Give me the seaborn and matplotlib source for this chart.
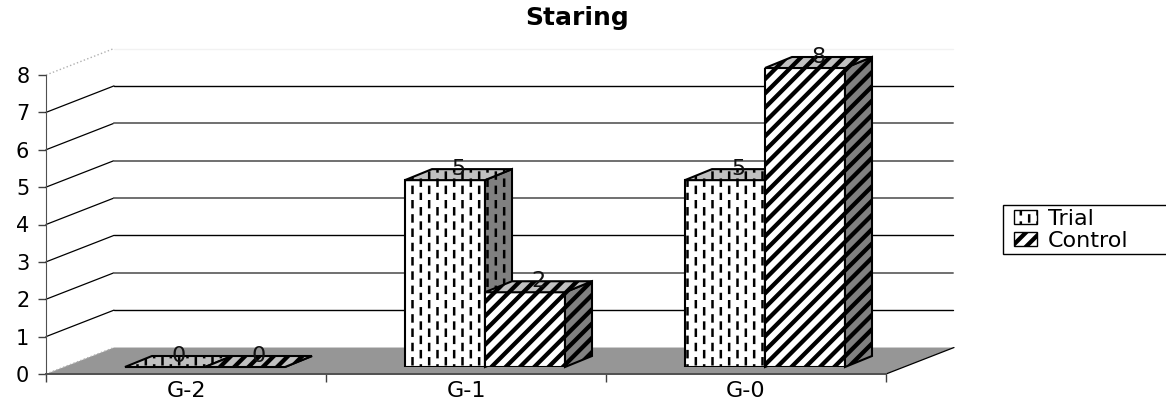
import matplotlib
matplotlib.use('Agg')
import matplotlib.hatch as mhatch
import matplotlib.pyplot as plt
import numpy as np
import pandas as pd
import seaborn as sns
from matplotlib.patches import Patch, Polygon, Rectangle
from matplotlib.path import Path

categories = ['G-2', 'G-1', 'G-0']
trial = [0, 5, 5]
control = [0, 2, 8]
series_names = ['Trial', 'Control']
y_ticks = [0, 1, 2, 3, 4, 5, 6, 7, 8]
grid_colors = ['black', '#707070', 'black', '#707070', '#707070', '#707070', 'black', '#707070']

W, H = 1166, 404


# staggered vertical dashes for the Trial bars, matplotlib has no such hatch
class DashHatch(mhatch.HatchPatternBase):
    cols = 12
    rows = 7

    def __init__(self, hatch, density):
        self.num_vertices = 2 * self.cols * self.rows if '*' in hatch else 0
        self.num_codes = self.num_vertices

    def set_vertices_and_codes(self, vertices, codes):
        if not self.num_vertices:
            return
        pts = []
        for c in range(self.cols):
            for r in range(self.rows):
                x = (c + 0.5) / self.cols
                y = (r + (c % 2) * 0.5) / self.rows
                pts.append([x, y])
                pts.append([x, y + 0.06])
        vertices[:] = np.array(pts)
        codes[0::2] = Path.MOVETO
        codes[1::2] = Path.LINETO


# thick diagonal stripes for the Control bars, two strokes side by side
class StripeHatch(mhatch.HatchPatternBase):
    stripes = 7

    def __init__(self, hatch, density):
        self.num_vertices = 8 * self.stripes + 4 if 'O' in hatch else 0
        self.num_codes = self.num_vertices

    def set_vertices_and_codes(self, vertices, codes):
        if not self.num_vertices:
            return
        pts = []
        for i in range(-self.stripes, self.stripes + 1):
            for off in (0, 0.025):
                pts.append([i / self.stripes + off, 0])
                pts.append([i / self.stripes + off + 1, 1])
        vertices[:] = np.array(pts)
        codes[0::2] = Path.MOVETO
        codes[1::2] = Path.LINETO


mhatch._hatch_types.remove(mhatch.Stars)
mhatch._hatch_types.remove(mhatch.LargeCircles)
mhatch._hatch_types.extend([DashHatch, StripeHatch])

sns.set_style('white')
plt.rcParams['font.family'] = ['DejaVu Sans']
plt.rcParams['hatch.linewidth'] = 1.8
plt.rcParams['text.color'] = 'black'

fig = plt.figure(figsize=(W / 100, H / 100), dpi=100)
ax = fig.add_axes([46 / W, (H - 374) / H, 840 / W, 299 / H])
ax2 = fig.add_axes([65 / W, (H - 367) / H, 840 / W, 299 / H])
ax.set_zorder(1)
ax2.set_zorder(2)

df = pd.DataFrame({
    'group': categories * 2,
    'value': trial + control,
    'series': ['Trial'] * 3 + ['Control'] * 3,
})

sns.barplot(data=df, x='group', y='value', hue='series', order=categories,
            hue_order=series_names, palette=['white', 'white'], edgecolor='black',
            linewidth=1.5, width=0.5714, gap=0, saturation=1, legend=False, ax=ax2, zorder=5)

hatches = ['*', 'O']
dx, dy = 27 / 280, 11 / 37.4
z = 6
for cont, h in zip(ax2.containers, hatches):
    for bar in cont:
        bar.set_hatch(h)
        x0 = bar.get_x()
        x1 = x0 + bar.get_width()
        top = bar.get_height()
        side = [(x1, 0), (x1 + dx, dy), (x1 + dx, top + dy), (x1, top)]
        roof = [(x0, top), (x0 + dx, top + dy), (x1 + dx, top + dy), (x1, top)]
        bar.set_zorder(z)
        ax2.add_patch(Polygon(side, closed=True, facecolor='#808080', edgecolor='black',
                              hatch=h, linewidth=1.5, zorder=z, clip_on=False))
        ax2.add_patch(Polygon(roof, closed=True, facecolor='#c0c0c0', edgecolor='black',
                              hatch=h, linewidth=1.5, zorder=z, clip_on=False))
        ax2.text(x0 + bar.get_width() / 2 + dx / 2, top + dy, str(int(top)), ha='center',
                 va='center', fontsize=16, color='#111111', zorder=50, clip_on=False)
        z += 1

ax2.set_xlim(-0.5, 2.5)
ax2.set_ylim(0, 8)
ax2.axis('off')

# back wall and floor
wx, wy = 68 / 280, 26.5 / 37.4
gx = 2.5 + 67 / 280
ax.set_xlim(-0.5, 2.5)
ax.set_ylim(0, 8)
ax.add_patch(Polygon([(-0.5, 0), (2.5, 0), (2.5 + wx, wy), (-0.5 + wx, wy)], closed=True,
                     facecolor='#969696', edgecolor='none', clip_on=False, zorder=1))
ax.plot([-0.5, -0.5 + wx], [0, wy], color='#b0b0b0', lw=1, ls=':', clip_on=False, zorder=2)
ax.plot([2.5, 2.5 + wx], [0, wy], color='black', lw=0.9, clip_on=False, zorder=2)
for v, col in zip(y_ticks[1:], grid_colors):
    if v == 8:
        ax.plot([-0.5, -0.5 + wx], [v, v + wy], color='#b0b0b0', lw=1, ls=':', clip_on=False)
        ax.plot([-0.5 + wx, gx], [v + wy, v + wy], color='#f2f2f2', lw=1, clip_on=False)
    else:
        ax.plot([-0.5, -0.5 + wx], [v, v + wy], color='black', lw=0.9, clip_on=False)
        ax.plot([-0.5 + wx, gx], [v + wy, v + wy], color=col,
                lw=1.4 if col != 'black' else 1.0, clip_on=False)

ax.set_xticks([-0.5, 0.5, 1.5, 2.5])
ax.set_xticklabels([])
ax.set_xticks([0, 1, 2], minor=True)
ax.set_xticklabels(categories, minor=True, fontsize=16, color='black')
ax.set_yticks(y_ticks)
ax.set_yticklabels(y_ticks, fontsize=15, color='black')
ax.tick_params(axis='x', which='major', length=6, width=1, color='#404040', bottom=True)
ax.tick_params(axis='x', which='minor', length=0, pad=5, bottom=False)
ax.tick_params(axis='y', length=6, width=1, color='#404040', pad=6, left=True)
ax.patch.set_visible(False)
sns.despine(ax=ax, top=True, right=True)
ax.spines['left'].set_color('#505050')
ax.spines['bottom'].set_color('#505050')
ax.spines['bottom'].set_linewidth(1.4)

fig.text(577 / W, 1 - 18 / H, 'Staring', ha='center', va='center', fontsize=18,
         fontweight='bold', color='black')

# legend box runs past the right edge of the picture
fig.add_artist(Rectangle((1004 / W, (H - 255) / H), 180 / W, 50 / H, transform=fig.transFigure,
                         facecolor='#909090', edgecolor='none'))
fig.add_artist(Rectangle((1003 / W, (H - 254) / H), 180 / W, 49 / H, transform=fig.transFigure,
                         facecolor='white', edgecolor='black', linewidth=1))
handles = [Patch(facecolor='white', edgecolor='black', hatch=h, label=n)
           for h, n in zip(hatches, series_names)]
leg = fig.legend(handles=handles, loc='center left', bbox_to_anchor=(1010 / W, 1 - 230 / H),
                 frameon=False, fontsize=16, labelcolor='black', handlelength=1.0, handleheight=0.6,
                 handletextpad=0.5, labelspacing=0.1, borderpad=0.2, borderaxespad=0)

fig.savefig('out.png', dpi=100)
